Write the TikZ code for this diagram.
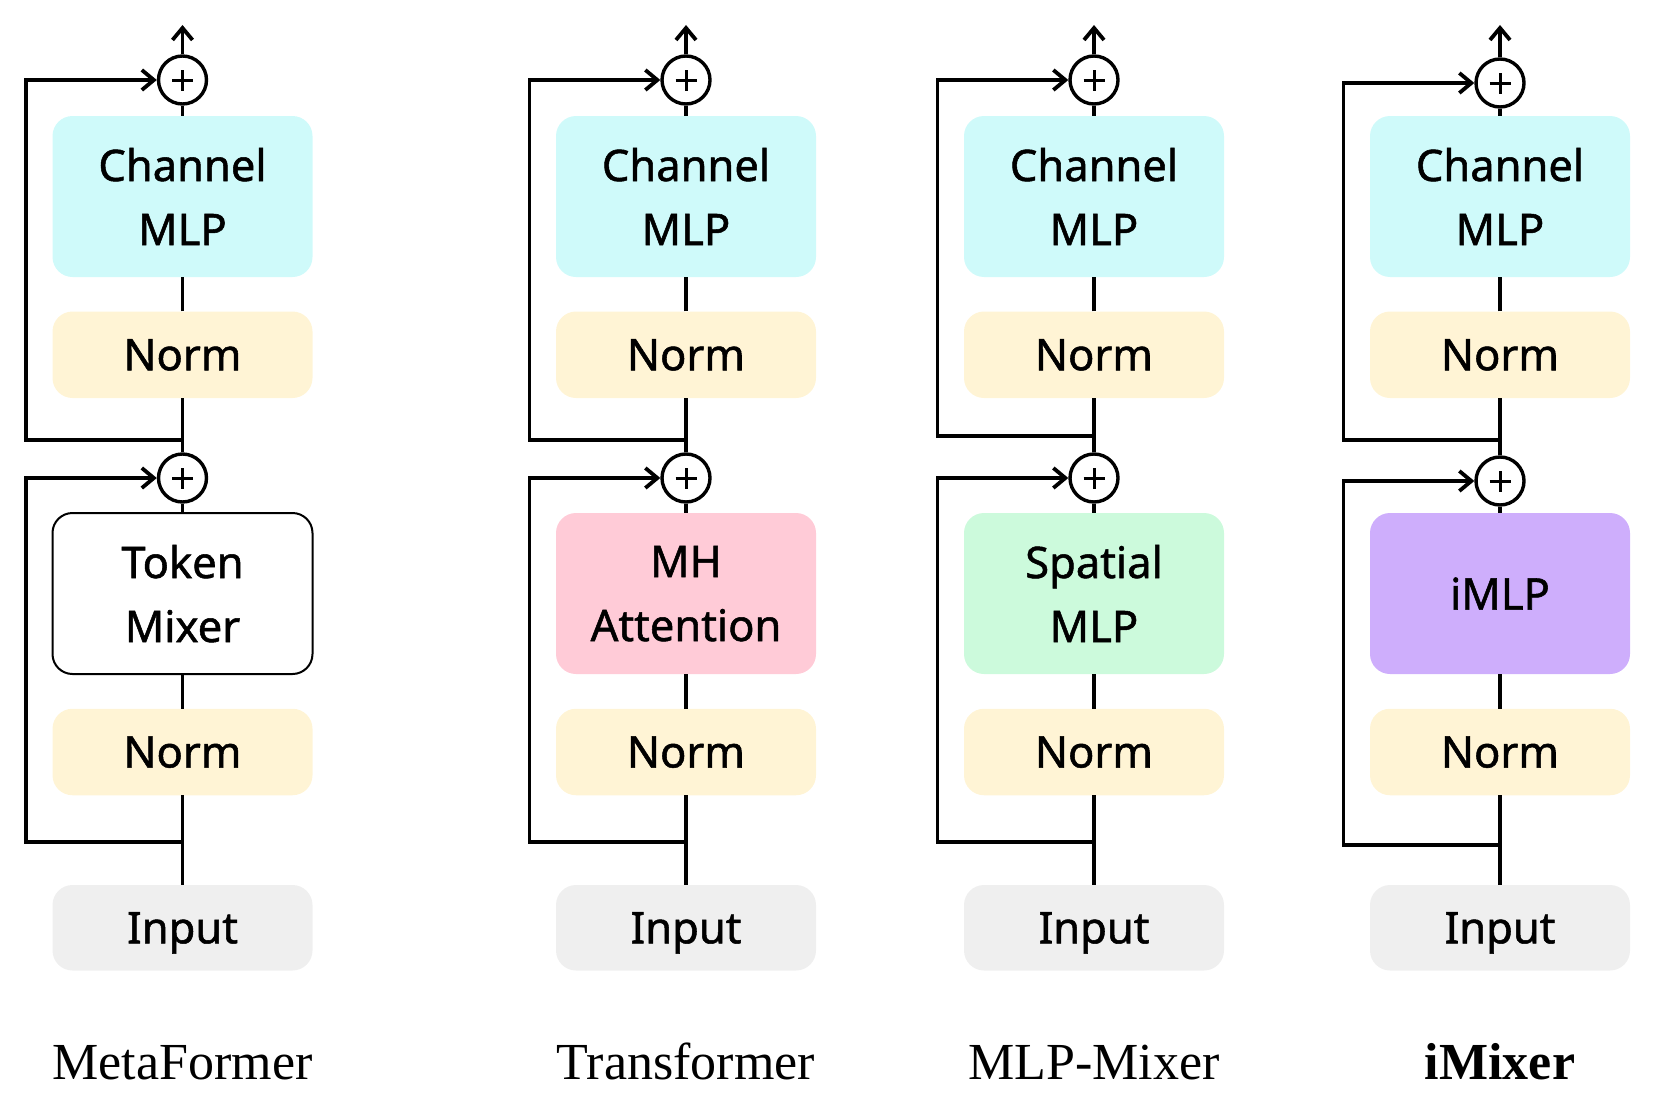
\documentclass[tikz,border=0pt]{standalone}
\usepackage{fontspec}
\setmainfont{Liberation Serif}
\newfontfamily\boxfont[RawFeature={embolden=1.2}]{Noto Sans}
\usetikzlibrary{arrows.meta}
\definecolor{cyanbox}{HTML}{CFFAFA}
\definecolor{normbox}{HTML}{FFF4D5}
\definecolor{inbox}{HTML}{EFEFEF}
\definecolor{pinkbox}{HTML}{FFCBD7}
\definecolor{greenbox}{HTML}{CCFADC}
\definecolor{purplebox}{HTML}{CEAEFC}
\tikzset{
  blk/.style={rectangle, rounded corners=20pt, minimum width=260pt, inner sep=0pt, align=center, text depth=0pt, font=\boxfont\fontsize{43.5}{64}\selectfont},
  tallsize/.style={blk, minimum height=161pt},
  shortsize/.style={blk, minimum height=86.5pt},
  cmlpblk/.style={tallsize, fill=cyanbox},
  normblk/.style={shortsize, fill=normbox},
  inblk/.style={shortsize, fill=inbox, minimum height=85.5pt},
  tokenblk/.style={tallsize, fill=white, draw=black, line width=2pt},
  attnblk/.style={tallsize, fill=pinkbox},
  spatblk/.style={tallsize, fill=greenbox},
  imlpblk/.style={tallsize, fill=purplebox},
  addnode/.style={circle, draw=black, line width=3.4pt, minimum size=48pt, inner sep=0pt},
  wire/.style={line width=3.8pt, line join=miter},
  arr/.style={wire, -{Straight Barb[length=12pt,width=20pt]}},
  pluslines/.style={line width=3pt},
  lbl/.style={anchor=base, font=\fontsize{52}{60}\selectfont},
}
\newcommand\archcol[9]{%
  \node[cmlpblk] (#1cm) at (#2,196.5) {Channel\\MLP};
  \node[normblk] (#1na) at (#2,354.75) {Norm};
  \node[#3] (#1mx) at (#2,593.5) {#4};
  \node[normblk] (#1nb) at (#2,752) {Norm};
  \node[inblk] (#1in) at (#2,927.75) {Input};
  \node[addnode] (#1pa) at (#2,#6) {};
  \node[addnode] (#1pb) at (#2,#7) {};
  \coordinate (#1out) at (#2,25);
  \coordinate (#1ba) at (#2,#8);
  \coordinate (#1bb) at (#2,#9);
  \coordinate (#1la) at (#2-156.5,#8);
  \coordinate (#1lb) at (#2-156.5,#9);
  \draw[wire] (#1in.north) -- (#1nb.south) (#1nb.north) -- (#1mx.south)
              (#1mx.north) -- (#1pb.south) (#1pb.north) -- (#1na.south)
              (#1na.north) -- (#1cm.south) (#1cm.north) -- (#1pa.south);
  \draw[arr] (#1pa.north) -- (#1out);
  \draw[arr] (#1ba) -- (#1la) |- (#1pa.west);
  \draw[arr] (#1bb) -- (#1lb) |- (#1pb.west);
  \draw[pluslines] ([xshift=-10.5pt]#1pa.center) -- ([xshift=10.5pt]#1pa.center)
                   ([yshift=-10.5pt]#1pa.center) -- ([yshift=10.5pt]#1pa.center)
                   ([xshift=-10.5pt]#1pb.center) -- ([xshift=10.5pt]#1pb.center)
                   ([yshift=-10.5pt]#1pb.center) -- ([yshift=10.5pt]#1pb.center);
  \node[lbl] (#1lab) at (#2,1079) {#5};
}
\begin{document}
\begin{tikzpicture}[x=1pt,y=-1pt]
\useasboundingbox (0,0) rectangle (1656,1108);
\archcol{a}{182.5}{tokenblk}{Token\\Mixer}{MetaFormer}{80}{478}{440}{842}
\archcol{b}{686}{attnblk}{MH\\Attention}{Transformer}{80}{478}{440}{842}
\archcol{c}{1094}{spatblk}{Spatial\\MLP}{MLP-Mixer}{80}{478}{436}{842}
\archcol{d}{1500}{imlpblk}{iMLP}{\textbf{iMixer}}{83}{481}{440}{845}
\end{tikzpicture}
\end{document}
